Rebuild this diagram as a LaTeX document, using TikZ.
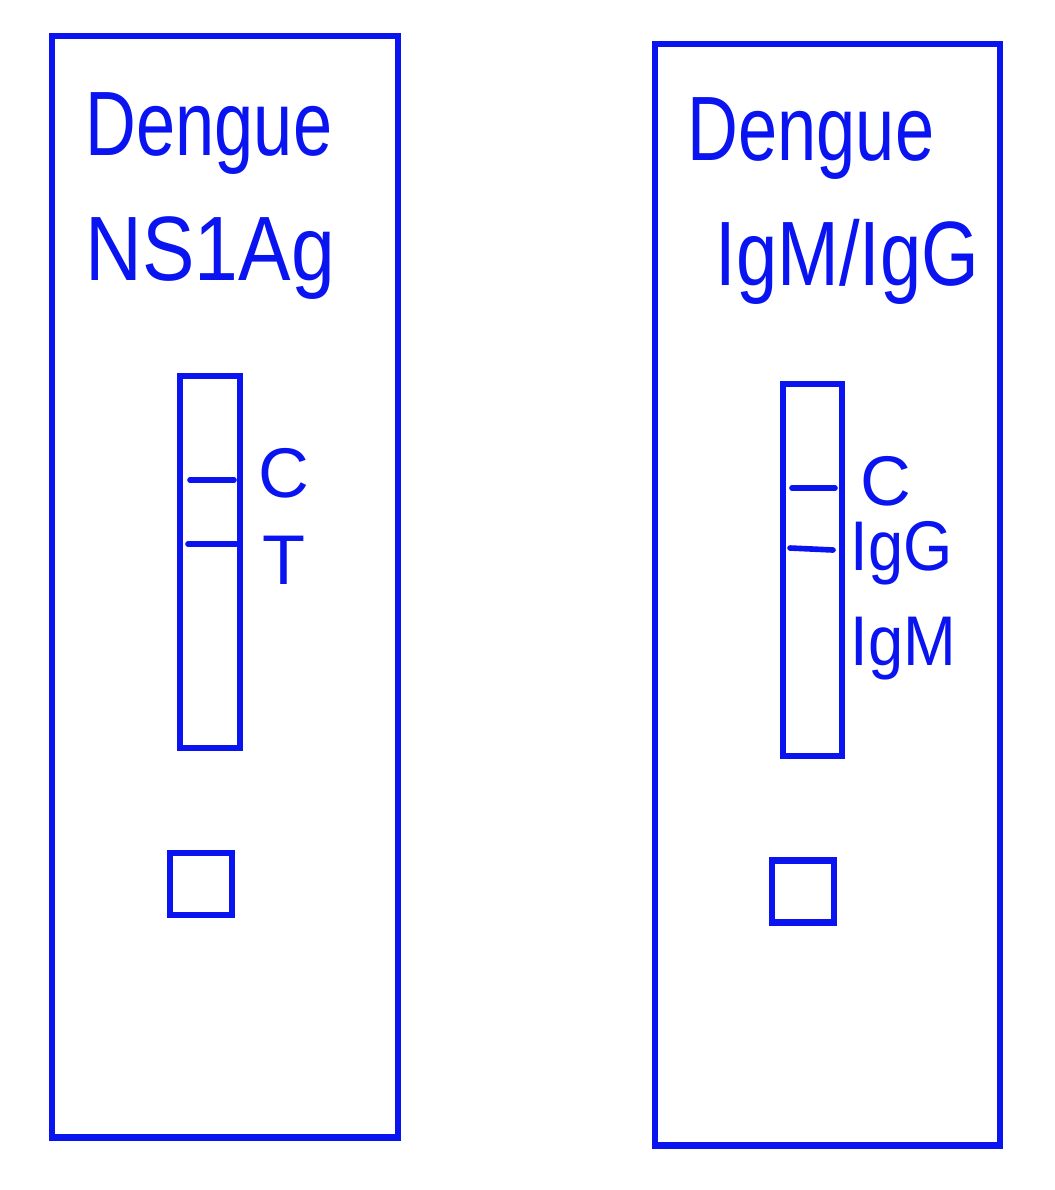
\documentclass[tikz,border=0pt]{standalone}
\usepackage{fontspec}
\setmainfont{Liberation Sans}
\usetikzlibrary{positioning}
\definecolor{ink}{HTML}{0A14F0}
\newcommand{\sq}[2]{\scalebox{#1}[1]{#2}}
\tikzset{
  cassette/.style={draw=ink, line width=1.8pt, inner sep=0pt},
  strip/.style   ={draw=ink, line width=1.8pt, inner sep=0pt, minimum width=0.6cm, minimum height=3.72cm},
  well/.style    ={draw=ink, line width=1.8pt, inner sep=0pt, minimum width=0.62cm, minimum height=0.62cm},
  band/.style    ={draw=ink, line width=1.6pt, line cap=round},
  title/.style   ={text=ink, inner sep=0pt, anchor=base west, font=\fontsize{26}{30}\selectfont},
  lbl/.style     ={text=ink, inner sep=0pt, anchor=base west, font=\fontsize{20}{24}\selectfont},
}
\begin{document}
\begin{tikzpicture}[x=0.01cm,y=-0.01cm]
    \useasboundingbox (0,0) rectangle (1055,1190);

    % NS1 antigen cassette
    \node[cassette, minimum width=3.46cm, minimum height=11.01cm] (ns1) at (225,586.5) {};
    \node[title] (ns1t1) at (85,155) {\sq{0.77}{Dengue}};
    \node[title] (ns1t2) at (85,280) {\sq{0.86}{NS1Ag}};
    \node[strip] (ns1win) at (210,562) {};
    \node[well] (ns1well) at (201,884) {};
    \draw[band] (190,480) -- (234,480);
    \draw[band] (188,544) -- (236,544);
    \node[lbl] (ns1c) at (258,497) {C};
    \node[lbl] (ns1t) at (262,584) {T};

    % IgM/IgG cassette
    \node[cassette, minimum width=3.45cm, minimum height=11.01cm] (ab) at (827.5,594.5) {};
    \node[title] (abt1) at (687,160) {\sq{0.77}{Dengue}};
    \node[title] (abt2) at (715,285) {\sq{0.81}{IgM/IgG}};
    \node[strip, minimum width=0.59cm] (abwin) at (812.5,570) {};
    \node[well] (abwell) at (803,891.5) {};
    \draw[band] (792,488) -- (835,488);
    \draw[band] (790,548) -- (833,550);
    \node[lbl] (abc) at (860,505) {C};
    \node[lbl] (abg) at (850,570) {\sq{0.9}{IgG}};
    \node[lbl] (abm) at (850,665) {\sq{0.9}{IgM}};
  \end{tikzpicture}
\end{document}
